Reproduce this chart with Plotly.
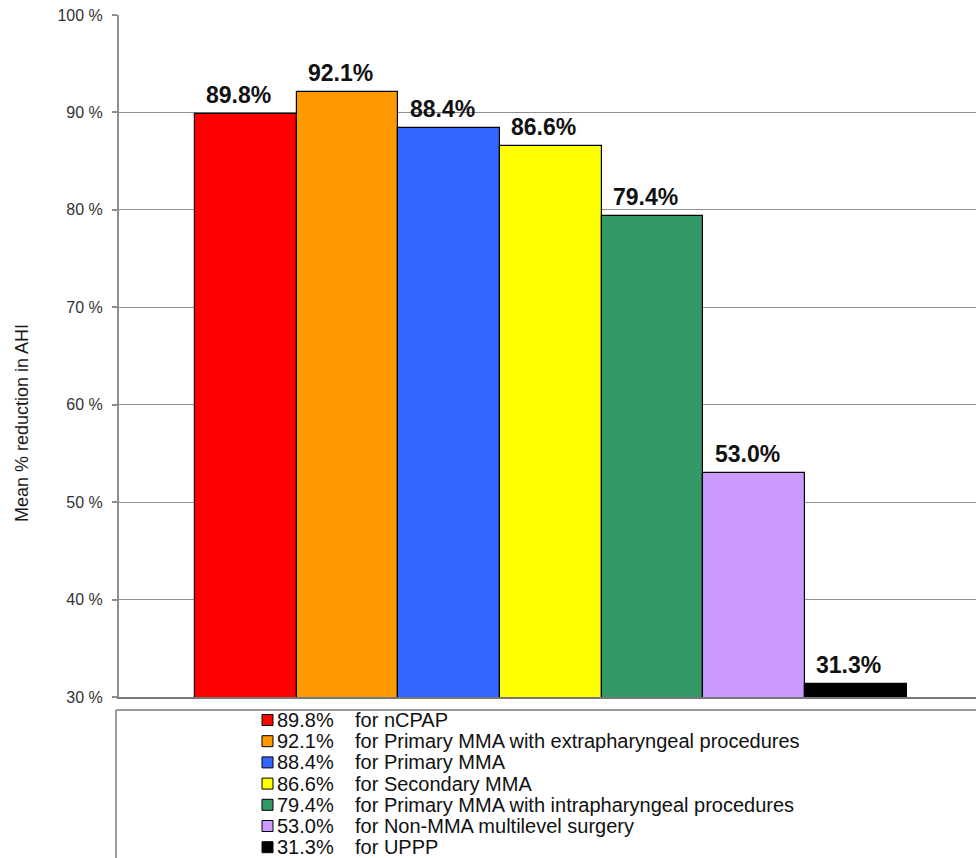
import plotly.graph_objects as go

# Treatment groups and mean % reduction in AHI
groups = [
    "nCPAP",
    "Primary MMA with extrapharyngeal procedures",
    "Primary MMA",
    "Secondary MMA",
    "Primary MMA with intrapharyngeal procedures",
    "Non-MMA multilevel surgery",
    "UPPP",
]
reduction = [89.8, 92.1, 88.4, 86.6, 79.4, 53.0, 31.3]
bar_colors = ["#ff0000", "#ff9900", "#3366ff", "#ffff00", "#339966", "#cc99ff", "#000000"]
tick_values = [30, 40, 50, 60, 70, 80, 90, 100]
tick_labels = ["30 %", "40 %", "50 %", "60 %", "70 %", "80 %", "90 %", "100 %"]

FONT = "Arial, Liberation Sans, Helvetica, sans-serif"
GRID = "#8f8f8f"

W, H = 976, 858
M_L, M_T = 119, 15
PAPER_BOTTOM = 848          # pixel row of paper y = 0
plot_w = W - M_L
plot_h = PAPER_BOTTOM - M_T
px_per_bar = 101.67
x_start = -0.5 - (195 - M_L) / px_per_bar
x_end = x_start + plot_w / px_per_bar


def py(px):
    """Pixel row -> paper fraction."""
    return (PAPER_BOTTOM - px) / plot_h


def lx(px):
    """Pixel column -> paper fraction."""
    return (px - M_L) / plot_w


main_bottom = py(697)
legend_top = py(710)

idx = list(range(len(groups)))

fig = go.Figure()
fig.add_trace(go.Bar(
    x=idx, y=reduction,
    marker=dict(color=bar_colors, line=dict(color="#000000", width=1.2)),
    width=1.0, hoverinfo="skip", showlegend=False,
    xaxis="x", yaxis="y",
))

# Value labels above each bar
annotations = []
for i, v in enumerate(reduction):
    annotations.append(dict(
        x=i, y=v, xref="x", yref="y", text=f"{v:.1f}%",
        showarrow=False, xanchor="center", yanchor="bottom",
        xshift=-7, yshift=4,
        font=dict(family=FONT, size=23, color="#111111", weight="bold"),
    ))

# Key below the chart: coloured squares, value column, description column
row_h = 21.2
first_row = 720
leg_h = PAPER_BOTTOM - 710
y2_top = -(first_row - 710) / row_h
y2_bottom = y2_top + leg_h / row_h

fig.add_trace(go.Scatter(
    x=[lx(267.5)] * len(groups), y=idx, mode="markers",
    marker=dict(symbol="square", size=11, color=bar_colors,
                line=dict(color="#000000", width=1)),
    cliponaxis=False,
    hoverinfo="skip", showlegend=False, xaxis="x2", yaxis="y2",
))
for i, (v, g) in enumerate(zip(reduction, groups)):
    annotations.append(dict(
        x=lx(275), y=i, xref="x2", yref="y2", text=f"{v:.1f}%",
        showarrow=False, xanchor="left", yanchor="middle",
        font=dict(family=FONT, size=20, color="#111111"),
    ))
    annotations.append(dict(
        x=lx(353), y=i, xref="x2", yref="y2", text=f"for {g}",
        showarrow=False, xanchor="left", yanchor="middle",
        font=dict(family=FONT, size=20, color="#111111"),
    ))

# Axis title
annotations.append(dict(
    x=lx(22), y=py(423), xref="paper", yref="paper",
    text="Mean % reduction in AHI", textangle=-90, showarrow=False,
    xanchor="center", yanchor="middle",
    font=dict(family=FONT, size=18, color="#1a1a1a"),
))

fig.update_layout(
    width=W, height=H,
    margin=dict(l=M_L, r=0, t=M_T, b=H - PAPER_BOTTOM),
    paper_bgcolor="white", plot_bgcolor="white",
    bargap=0,
    annotations=annotations,
    xaxis=dict(
        domain=[0, 1], range=[x_start, x_end], showgrid=False, zeroline=False,
        showticklabels=False, ticks="", showline=True, linecolor="#777777",
        linewidth=2, anchor="y",
    ),
    yaxis=dict(
        domain=[main_bottom, 1], range=[30, 100], tickvals=tick_values,
        ticktext=tick_labels, ticks="outside", ticklen=5, tickcolor=GRID,
        tickwidth=1.5, showgrid=True, gridcolor=GRID, gridwidth=1.3,
        zeroline=False, showline=True, linecolor=GRID, linewidth=2,
        tickfont=dict(family=FONT, size=16, color="#333333"),
        anchor="x", ticklabelstandoff=6,
    ),
    xaxis2=dict(domain=[0, 1], range=[0, 1], visible=False, anchor="y2"),
    yaxis2=dict(domain=[0, legend_top], range=[y2_bottom, y2_top],
                visible=False, anchor="x2"),
    shapes=[
        dict(type="line", xref="paper", yref="paper",
             x0=lx(116), x1=1.01, y0=legend_top, y1=legend_top,
             line=dict(color="#9a9a9a", width=2)),
        dict(type="line", xref="paper", yref="paper",
             x0=lx(116), x1=lx(116), y0=py(870), y1=legend_top,
             line=dict(color="#9a9a9a", width=2)),
    ],
)

fig.write_html("out.html")
